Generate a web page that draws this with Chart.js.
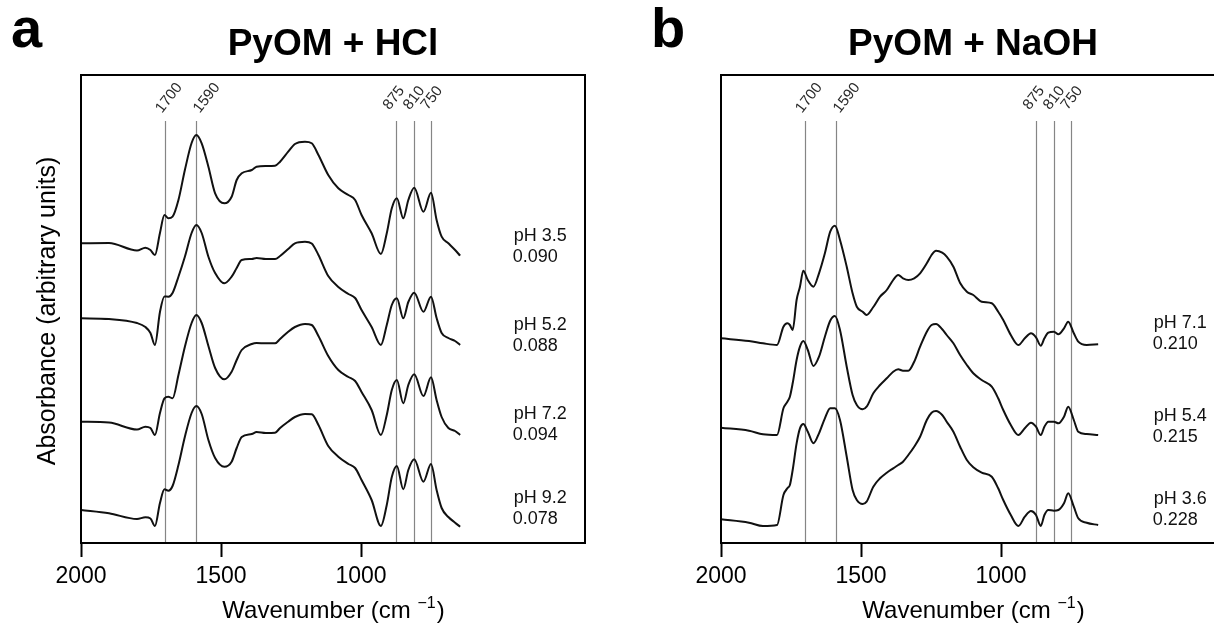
<!DOCTYPE html>
<html><head><meta charset="utf-8">
<script src="https://cdn.jsdelivr.net/npm/chart.js@4.4.1/dist/chart.umd.min.js"></script>
<style>
html,body{margin:0;padding:0;background:#fff;overflow:hidden;width:1214px;height:624px;}
#wrap{position:relative;width:1214px;height:624px;overflow:hidden;background:#fff;}
canvas{position:absolute;top:0;}
#cA{left:0;} #cB{left:640px;}
</style></head><body>
<div id="wrap"><canvas id="cA" width="600" height="624" style="width:600px;height:624px"></canvas><canvas id="cB" width="600" height="624" style="width:600px;height:624px"></canvas></div>
<script>
// ---------- Data (absorbance, arbitrary units, spectra stacked) ----------
const xTicks = [2000, 1500, 1000];
const peakPositions = [1700, 1590, 875, 810, 750];
const peakLabels = ['1700', '1590', '875', '810', '750'];

// Panel a: PyOM + HCl
const wavenumbersA = [2000,1900,1800,1770,1752,1736,1718,1702,1688,1673,1652,1629,1605,1588,1569,1545,1521,1488,1462,1444,1426,1390,1373,1340,1307,1289,1260,1236,1200,1176,1152,1117,1081,1045,1021,998,962,929,908,890,872,849,831,810,777,750,730,712,688,664,646];
const hclPH35 = [2.997,3.000,2.925,2.953,2.930,2.880,3.100,3.280,3.247,3.263,3.430,3.730,4.000,4.080,3.997,3.763,3.497,3.397,3.463,3.630,3.697,3.730,3.763,3.770,3.773,3.813,3.913,3.990,4.013,3.997,3.880,3.680,3.547,3.480,3.430,3.280,3.097,2.890,3.097,3.347,3.447,3.247,3.430,3.553,3.313,3.503,3.230,3.063,2.997,2.930,2.873];
const hclPH52 = [2.247,2.240,2.200,2.160,2.100,1.980,2.310,2.465,2.463,2.500,2.663,2.863,3.100,3.180,3.100,2.863,2.700,2.597,2.663,2.750,2.830,2.840,2.850,2.840,2.840,2.870,2.940,2.997,3.013,2.995,2.880,2.670,2.560,2.490,2.450,2.330,2.160,1.980,2.180,2.380,2.447,2.247,2.410,2.503,2.313,2.463,2.250,2.100,2.050,2.020,1.980];
const hclPH72 = [1.213,1.205,1.135,1.163,1.150,1.080,1.300,1.447,1.463,1.447,1.680,1.963,2.200,2.280,2.200,1.970,1.750,1.637,1.713,1.830,1.930,1.990,2.000,1.997,1.997,2.040,2.113,2.160,2.190,2.180,2.070,1.870,1.730,1.660,1.620,1.510,1.330,1.080,1.280,1.530,1.630,1.397,1.580,1.687,1.470,1.657,1.430,1.260,1.150,1.120,1.080];
const hclPH92 = [0.330,0.297,0.240,0.257,0.245,0.170,0.400,0.537,0.523,0.570,0.780,1.063,1.300,1.370,1.290,1.030,0.850,0.763,0.813,0.950,1.060,1.090,1.110,1.100,1.103,1.150,1.213,1.260,1.290,1.287,1.180,0.970,0.863,0.790,0.750,0.630,0.430,0.170,0.380,0.660,0.770,0.537,0.730,0.837,0.613,0.790,0.530,0.350,0.260,0.203,0.163];
const hclLabelsPH = ['pH 3.5', 'pH 5.2', 'pH 7.2', 'pH 9.2'];
const hclLabelsVal = ['0.090', '0.088', '0.094', '0.078'];
const hclLabelY = [3.07, 2.18, 1.29, 0.45];

// Panel b: PyOM + NaOH
const wavenumbersB = [2000,1900,1850,1800,1777,1763,1754,1744,1730,1718,1706,1690,1670,1650,1629,1610,1593,1575,1551,1530,1515,1494,1480,1456,1432,1408,1385,1367,1350,1331,1310,1289,1265,1248,1232,1210,1194,1170,1146,1122,1099,1069,1033,1010,992,965,938,915,893,875,858,845,831,811,795,775,760,740,724,694,653];
const naohPH71 = [2.047,2.020,1.997,1.980,2.163,2.197,2.180,2.130,2.430,2.563,2.723,2.630,2.563,2.697,2.897,3.113,3.173,3.030,2.763,2.497,2.363,2.313,2.280,2.360,2.463,2.530,2.630,2.680,2.647,2.630,2.647,2.697,2.797,2.880,2.923,2.903,2.863,2.763,2.600,2.513,2.480,2.413,2.397,2.313,2.230,2.080,1.980,2.047,2.097,2.057,1.973,2.047,2.103,2.113,2.087,2.147,2.213,2.097,2.013,1.980,1.987];
const naohPH54 = [1.153,1.123,1.087,1.080,1.347,1.413,1.463,1.597,1.830,1.963,2.020,1.930,1.770,1.863,2.063,2.223,2.270,2.130,1.763,1.480,1.380,1.337,1.363,1.497,1.580,1.647,1.713,1.737,1.723,1.723,1.813,1.963,2.113,2.180,2.190,2.137,2.080,1.997,1.880,1.780,1.697,1.630,1.563,1.447,1.330,1.180,1.080,1.147,1.203,1.163,1.080,1.163,1.213,1.213,1.197,1.263,1.363,1.230,1.113,1.090,1.080];
const naohPH36 = [0.237,0.203,0.170,0.180,0.480,0.547,0.580,0.730,0.997,1.147,1.190,1.113,0.997,1.097,1.247,1.347,1.347,1.230,0.863,0.530,0.430,0.390,0.413,0.563,0.647,0.703,0.747,0.780,0.813,0.880,0.963,1.063,1.230,1.303,1.320,1.280,1.213,1.113,0.963,0.830,0.757,0.703,0.663,0.547,0.430,0.280,0.170,0.263,0.320,0.280,0.170,0.280,0.330,0.323,0.330,0.397,0.497,0.363,0.247,0.203,0.180];
const naohLabelsPH = ['pH 7.1', 'pH 5.4', 'pH 3.6'];
const naohLabelsVal = ['0.210', '0.215', '0.228'];
const naohLabelY = [2.197, 1.27, 0.437];

const xMin = 200, xMax = 2000, yMin = 0, yMax = 4.68;
const peakLineTop = 4.22;
const labelWavenumber = 458;

// ---------- Helpers ----------
const FONT = '"Liberation Sans", Arial, Helvetica, sans-serif';
function toPoints(xs, ys) { return xs.map((x, i) => ({ x: x, y: ys[i] })); }

const decorPlugin = {
  id: 'decor',
  beforeDatasetsDraw(chart, args, o) {
    const ctx = chart.ctx, xs = chart.scales.x, ys = chart.scales.y, ca = chart.chartArea;
    ctx.save();
    ctx.strokeStyle = '#858585';
    ctx.lineWidth = 1.2;
    const top = ys.getPixelForValue(peakLineTop);
    peakPositions.forEach((p) => {
      const x = Math.round(xs.getPixelForValue(p)) + 0.5;
      ctx.beginPath(); ctx.moveTo(x, top); ctx.lineTo(x, ca.bottom); ctx.stroke();
    });
    // peak labels
    ctx.fillStyle = '#2a2a2a';
    ctx.font = '15px ' + FONT;
    ctx.textAlign = 'center'; ctx.textBaseline = 'middle';
    peakPositions.forEach((p, i) => {
      const x = xs.getPixelForValue(p) + o.peakDx[i];
      ctx.save();
      ctx.translate(x, top - 23);
      ctx.rotate(-52 * Math.PI / 180);
      ctx.fillText(peakLabels[i], 0, 0);
      ctx.restore();
    });
    ctx.restore();
  },
  afterDraw(chart, args, o) {
    const ctx = chart.ctx, xs = chart.scales.x, ys = chart.scales.y, ca = chart.chartArea;
    ctx.save();
    // frame
    ctx.strokeStyle = '#000'; ctx.lineWidth = 2;
    ctx.strokeRect(ca.left, ca.top, ca.right - ca.left, ca.bottom - ca.top);
    // sample labels
    ctx.fillStyle = '#111';
    ctx.font = '18px ' + FONT;
    ctx.textAlign = 'left'; ctx.textBaseline = 'middle';
    o.labelY.forEach((v, i) => {
      const x = xs.getPixelForValue(labelWavenumber);
      const y = ys.getPixelForValue(v);
      ctx.fillText(o.labelsPH[i], x + 1, y);
      ctx.fillText(o.labelsVal[i], x, y + 21);
    });
    // panel letter
    ctx.fillStyle = '#000';
    ctx.font = 'bold 56px ' + FONT;
    ctx.textAlign = 'left'; ctx.textBaseline = 'alphabetic';
    ctx.fillText(o.letter, 11, 47);
    // title
    ctx.font = 'bold 37px ' + FONT;
    ctx.textAlign = 'center';
    const cx = (ca.left + ca.right) / 2;
    ctx.fillText(o.title, cx, 55);
    // x axis title with superscript
    const mainF = '24px ' + FONT, supF = '16px ' + FONT;
    const s1 = 'Wavenumber (cm ', s2 = '\u22121', s3 = ')';
    ctx.font = mainF; const w1 = ctx.measureText(s1).width, w3 = ctx.measureText(s3).width;
    ctx.font = supF; const w2 = ctx.measureText(s2).width;
    let x0 = cx - (w1 + w2 + w3) / 2;
    const by = 618;
    ctx.textAlign = 'left';
    ctx.font = mainF; ctx.fillText(s1, x0, by);
    ctx.font = supF; ctx.fillText(s2, x0 + w1, by - 10);
    ctx.font = mainF; ctx.fillText(s3, x0 + w1 + w2 + 1, by);
    // y axis title
    if (o.yTitle) {
      ctx.save();
      ctx.translate(48, (ca.top + ca.bottom) / 2 + 2);
      ctx.rotate(-Math.PI / 2);
      ctx.font = '25px ' + FONT;
      ctx.textAlign = 'center'; ctx.textBaseline = 'middle';
      ctx.fillText(o.yTitle, 0, 0);
      ctx.restore();
    }
    ctx.restore();
  }
};

function makeChart(id, xsData, series, opts) {
  return new Chart(document.getElementById(id), {
    type: 'line',
    data: {
      datasets: series.map((s) => ({
        label: s.label,
        data: toPoints(xsData, s.values),
        borderColor: '#111',
        borderWidth: 2,
        pointRadius: 0,
        fill: false,
        cubicInterpolationMode: 'monotone'
      }))
    },
    options: {
      responsive: false,
      animation: false,
      layout: { padding: { left: 81, right: 15, top: 75, bottom: 0 } },
      plugins: {
        legend: { display: false },
        tooltip: { enabled: false },
        decor: opts
      },
      scales: {
        x: {
          type: 'linear', min: xMin, max: xMax, reverse: true,
          afterBuildTicks: (sc) => { sc.ticks = xTicks.map((v) => ({ value: v })); },
          afterFit: (sc) => { sc.height = 81; },
          grid: { drawOnChartArea: false, drawTicks: true, tickLength: 14, tickWidth: 2, tickColor: '#000' },
          border: { display: true, color: '#000', width: 2 },
          ticks: { color: '#000', font: { family: FONT, size: 23 }, padding: 6, maxRotation: 0, autoSkip: false,
                   callback: (v) => String(v) }
        },
        y: { type: 'linear', min: yMin, max: yMax, display: false }
      }
    },
    plugins: [decorPlugin]
  });
}

makeChart('cA', wavenumbersA, [
  { label: 'pH 3.5', values: hclPH35 },
  { label: 'pH 5.2', values: hclPH52 },
  { label: 'pH 7.2', values: hclPH72 },
  { label: 'pH 9.2', values: hclPH92 }
], { letter: 'a', title: 'PyOM + HCl', yTitle: 'Absorbance (arbitrary units)',
     labelsPH: hclLabelsPH, labelsVal: hclLabelsVal, labelY: hclLabelY, peakDx: [4, 11, -2, 0, 1] });

makeChart('cB', wavenumbersB, [
  { label: 'pH 7.1', values: naohPH71 },
  { label: 'pH 5.4', values: naohPH54 },
  { label: 'pH 3.6', values: naohPH36 }
], { letter: 'b', title: 'PyOM + NaOH', yTitle: '',
     labelsPH: naohLabelsPH, labelsVal: naohLabelsVal, labelY: naohLabelY, peakDx: [4, 11, -2, 0, 1] });
</script>
</body></html>
